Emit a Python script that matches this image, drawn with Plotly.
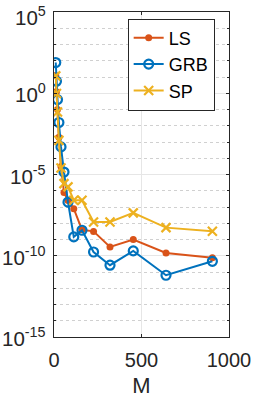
import plotly.graph_objects as go

M = [10, 14, 20, 28, 40, 57, 80, 113, 160, 226, 320, 453, 640, 905]
LS_exp = [1.1, 0.1, -1.0, -2.7, -4.5, -6.1, -6.6, -7.1, -8.4, -8.5, -9.46, -9.0, -9.83, -10.13]
GRB_exp = [1.89, 0.74, -0.39, -1.8, -3.3, -4.85, -6.7, -8.84, -8.43, -9.77, -10.58, -9.7, -11.2, -10.34]
SP_exp = [1.07, -0.02, -1.15, -2.9, -4.6, -5.56, -5.76, -6.58, -6.58, -7.92, -7.92, -7.36, -8.27, -8.49]

LS = [10 ** e for e in LS_exp]
GRB = [10 ** e for e in GRB_exp]
SP = [10 ** e for e in SP_exp]

ytick_exps = [-15, -10, -5, 0, 5]
ytick_text = ["10<sup>%d</sup>" % e for e in ytick_exps]
xticks = [0, 500, 1000]

FONT = "Liberation Sans, Arial, Helvetica, sans-serif"
AX = "#262626"

fig = go.Figure()
fig.add_trace(go.Scatter(x=M, y=LS, name="LS", mode="lines+markers",
                         line=dict(color="#D95319", width=2),
                         marker=dict(symbol="circle", size=7, color="#D95319")))
fig.add_trace(go.Scatter(x=M, y=GRB, name="GRB", mode="lines+markers",
                         line=dict(color="#0072BD", width=2),
                         marker=dict(symbol="circle-open", size=9, color="#0072BD",
                                     line=dict(width=2.2, color="#0072BD"))))
fig.add_trace(go.Scatter(x=M, y=SP, name="SP", mode="lines+markers",
                         line=dict(color="#EDB120", width=2),
                         marker=dict(symbol="x-thin", size=9, color="#EDB120",
                                     line=dict(width=2.2, color="#EDB120"))))

# y tick labels as text next to the axis (top one nudged inside the figure, as in the original)
top_exp = max(ytick_exps)
for e, txt in zip(ytick_exps, ytick_text):
    fig.add_annotation(xref="paper", yref="y", x=0, y=e, text=txt, showarrow=False,
                       xanchor="right", yanchor="middle", xshift=-6,
                       yshift=-4 if e == top_exp else 0,
                       font=dict(family=FONT, size=20.5, color=AX))

fig.update_layout(
    width=253, height=398,
    margin=dict(l=54, r=24, t=12, b=61, autoexpand=False),
    paper_bgcolor="white", plot_bgcolor="white",
    font=dict(family=FONT, color=AX, size=20),
    legend=dict(x=0.421, y=0.980, xanchor="left", yanchor="top",
                bordercolor=AX, borderwidth=1, bgcolor="white",
                font=dict(size=18, color="black"),
                tracegroupgap=0, itemwidth=30),
    showlegend=True,
)
fig.update_xaxes(range=[0, 1000], tickvals=xticks, ticktext=[str(v) for v in xticks],
                 showline=True, linecolor=AX, linewidth=1, mirror="ticks",
                 ticks="inside", ticklen=3, tickcolor=AX, automargin=False,
                 ticklabeloverflow="allow", ticklabelstandoff=5,
                 showgrid=True, gridcolor="#e6e6e6", gridwidth=1, zeroline=False,
                 title=dict(text="M", font=dict(size=22), standoff=11),
                 tickfont=dict(size=20))
fig.update_yaxes(type="log", range=[-15, 5],
                 tickvals=[10 ** e for e in ytick_exps], showticklabels=False,
                 showline=True, linecolor=AX, linewidth=1, mirror="ticks",
                 ticks="inside", ticklen=3, tickcolor=AX, automargin=False,
                 showgrid=True, gridcolor="#e6e6e6", gridwidth=1, zeroline=False,
                 minor=dict(tickvals=[10 ** e for e in range(-15, 6) if e % 5 != 0],
                            ticks="inside", ticklen=2, tickcolor=AX,
                            showgrid=True, gridcolor="#d0d0d0", griddash="dot", gridwidth=1))

fig.write_html("out.html", config={"displayModeBar": False},
               post_script="document.body.style.margin='0';document.body.style.overflow='hidden';")
